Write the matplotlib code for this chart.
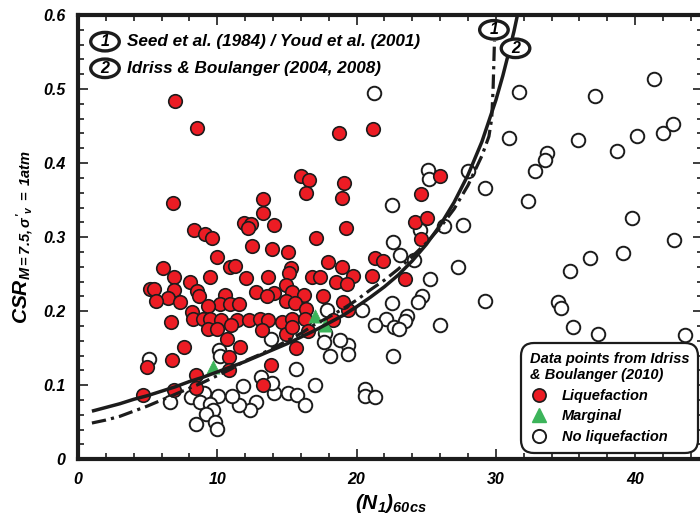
import matplotlib
matplotlib.use("Agg")
import matplotlib.pyplot as plt
from matplotlib.lines import Line2D
from matplotlib.patches import Ellipse

plt.rcParams['font.family'] = ['Liberation Sans', 'DejaVu Sans']
plt.rcParams['font.weight'] = 'bold'
plt.rcParams['font.style'] = 'italic'
plt.rcParams['mathtext.fontset'] = 'custom'
plt.rcParams['mathtext.rm'] = 'Liberation Sans:bold:italic'
plt.rcParams['mathtext.it'] = 'Liberation Sans:bold:italic'
plt.rcParams['mathtext.bf'] = 'Liberation Sans:bold:italic'

# liquefaction case histories: (N1)60cs and CSR
liq_n = [7.00, 8.51, 18.74, 21.16, 16.04, 16.55, 16.40, 19.10, 18.93, 6.84,
         13.30, 13.30, 25.99, 24.60, 11.92, 12.40, 12.24, 14.07, 19.24, 8.33,
         9.10, 9.63, 12.49, 13.93, 15.09, 17.07, 10.01, 17.95, 18.95, 24.19,
         25.07, 24.62, 21.32, 21.90, 23.47, 21.14, 19.73, 19.42, 6.12, 6.88,
         9.48, 8.06, 10.91, 11.29, 12.05, 13.66, 15.27, 15.13, 16.78, 17.34,
         18.54, 19.29, 5.17, 5.46, 6.91, 6.48, 8.52, 8.69, 5.59, 7.32,
         10.59, 10.19, 10.91, 11.58, 9.33, 12.79, 14.08, 13.55, 14.93, 15.34,
         14.96, 16.24, 15.56, 17.59, 16.35, 19.05, 8.16, 8.28, 9.00, 9.48,
         10.30, 11.45, 12.28, 13.09, 13.66, 14.62, 15.40, 16.30, 18.34, 6.65,
         9.35, 10.01, 10.95, 13.24, 14.90, 15.34, 16.53, 10.73, 11.65, 7.62,
         15.67, 10.85, 6.78, 4.95, 10.83, 13.83, 8.47, 8.47, 6.88, 4.65,
         13.30]
liq_csr = [0.484, 0.447, 0.440, 0.446, 0.383, 0.377, 0.360, 0.373, 0.353, 0.346,
           0.352, 0.333, 0.383, 0.358, 0.319, 0.318, 0.312, 0.316, 0.313, 0.309,
           0.304, 0.299, 0.288, 0.284, 0.280, 0.299, 0.273, 0.267, 0.260, 0.321,
           0.326, 0.297, 0.272, 0.268, 0.243, 0.247, 0.247, 0.202, 0.258, 0.246,
           0.246, 0.240, 0.260, 0.261, 0.245, 0.246, 0.258, 0.251, 0.246, 0.246,
           0.239, 0.237, 0.230, 0.230, 0.228, 0.218, 0.227, 0.220, 0.214, 0.212,
           0.222, 0.210, 0.210, 0.210, 0.207, 0.226, 0.224, 0.220, 0.236, 0.226,
           0.214, 0.222, 0.211, 0.221, 0.203, 0.212, 0.199, 0.190, 0.189, 0.189,
           0.188, 0.188, 0.188, 0.189, 0.188, 0.186, 0.189, 0.189, 0.188, 0.185,
           0.176, 0.176, 0.181, 0.175, 0.169, 0.179, 0.173, 0.162, 0.151, 0.152,
           0.150, 0.138, 0.134, 0.125, 0.121, 0.128, 0.114, 0.096, 0.093, 0.087,
           0.101]

# marginal cases
marg_n = [9.66, 17.01, 17.73]
marg_csr = [0.125, 0.193, 0.181]

# no liquefaction
noliq_n = [21.27, 31.68, 37.11, 41.37, 30.96, 35.89, 40.15, 42.02, 42.74, 38.67,
           33.65, 33.55, 32.81, 28.03, 25.13, 25.20, 29.22, 32.34, 22.52, 24.55,
           22.59, 26.27, 27.62, 39.79, 42.76, 23.12, 36.73, 39.15, 24.10, 25.27,
           27.26, 22.52, 24.69, 24.41, 29.23, 23.60, 23.45, 22.11, 21.32, 22.66,
           23.08, 25.97, 20.37, 22.59, 20.60, 20.57, 21.29, 35.32, 34.48, 34.65,
           35.56, 37.35, 43.57, 19.40, 19.36, 18.81, 17.90, 17.70, 17.66, 18.09,
           13.83, 15.67, 17.01, 13.12, 11.87, 14.05, 15.08, 15.72, 16.32, 12.76,
           12.33, 11.59, 11.03, 10.05, 8.11, 9.05, 8.76, 9.48, 9.69, 9.19,
           8.47, 9.83, 10.01, 6.64, 5.12, 10.10, 10.18, 13.91]
noliq_csr = [0.494, 0.496, 0.491, 0.514, 0.434, 0.431, 0.437, 0.441, 0.453, 0.417,
             0.414, 0.404, 0.390, 0.389, 0.391, 0.379, 0.367, 0.349, 0.344, 0.309,
             0.293, 0.315, 0.316, 0.326, 0.296, 0.276, 0.272, 0.278, 0.269, 0.243,
             0.260, 0.211, 0.221, 0.212, 0.214, 0.194, 0.187, 0.189, 0.181, 0.178,
             0.176, 0.182, 0.202, 0.140, 0.095, 0.085, 0.084, 0.254, 0.212, 0.204,
             0.178, 0.169, 0.168, 0.154, 0.142, 0.161, 0.201, 0.170, 0.159, 0.139,
             0.162, 0.122, 0.100, 0.111, 0.099, 0.090, 0.090, 0.087, 0.073, 0.078,
             0.067, 0.073, 0.085, 0.086, 0.084, 0.090, 0.078, 0.075, 0.067, 0.061,
             0.048, 0.050, 0.041, 0.077, 0.135, 0.148, 0.139, 0.103]

# curve 1: Seed et al. (1984) / Youd et al. (2001)
c1_n = [1, 2, 3, 4, 5, 6, 7, 8, 9, 10, 11, 12, 13, 14, 15, 16, 17, 18, 19, 20,
        21, 22, 23, 24, 25, 26, 27, 28, 29, 29.5, 29.7, 29.8, 29.9]
c1_csr = [0.049, 0.053, 0.058, 0.065, 0.072, 0.080, 0.088, 0.096, 0.104, 0.113,
          0.122, 0.133, 0.141, 0.150, 0.160, 0.170, 0.182, 0.192, 0.203, 0.215,
          0.229, 0.242, 0.257, 0.274, 0.292, 0.313, 0.338, 0.370, 0.410, 0.436,
          0.460, 0.500, 0.565]

# curve 2: Idriss & Boulanger (2004, 2008)
c2_n = [1, 2, 3, 4, 5, 6, 7, 8, 9, 10, 11, 12, 13, 14, 15, 16, 17, 18, 19, 20,
        21, 22, 23, 24, 25, 26, 27, 28, 29, 30, 30.5, 31, 31.3, 31.55]
c2_csr = [0.065, 0.070, 0.075, 0.081, 0.086, 0.092, 0.098, 0.105, 0.111, 0.118,
          0.125, 0.132, 0.140, 0.148, 0.156, 0.165, 0.174, 0.184, 0.194, 0.206,
          0.219, 0.233, 0.249, 0.268, 0.290, 0.316, 0.347, 0.384, 0.429, 0.485,
          0.518, 0.555, 0.578, 0.600]

x_ticks = [0, 10, 20, 30, 40]
x_tick_labels = ['0', '10', '20', '30', '40']
y_ticks = [0, 0.1, 0.2, 0.3, 0.4, 0.5, 0.6]
y_tick_labels = ['0', '0.1', '0.2', '0.3', '0.4', '0.5', '0.6']

RED = '#ec1c24'
GREEN = '#3cb45a'
INK = '#1c1c1c'

fig = plt.figure(figsize=(7, 5.17), dpi=100)
ax = fig.add_axes([0.1114, 0.1116, 0.8929, 0.8594])

ax.scatter(noliq_n, noliq_csr, s=95, facecolor='white', edgecolor=INK, linewidth=1.4, zorder=3)
ax.scatter(liq_n, liq_csr, s=95, facecolor=RED, edgecolor=INK, linewidth=1.2, zorder=4)
ax.scatter(marg_n, marg_csr, s=90, marker='^', facecolor=GREEN, edgecolor=GREEN, linewidth=0.5, zorder=5)

ax.plot(c1_n, c1_csr, color=INK, lw=2.3, linestyle=(0, (4.5, 1.6, 1.0, 1.6)), zorder=6)
ax.plot(c2_n, c2_csr, color=INK, lw=2.5, solid_capstyle='butt', zorder=6)


def tag(x, y, num):
    # numbered ellipse marker for a curve
    ax.add_patch(Ellipse((x, y), 2.05, 0.025, facecolor='white', edgecolor=INK, lw=2.4, zorder=8))
    ax.text(x, y, num, fontsize=11.5, ha='center', va='center', zorder=9)


tag(29.86, 0.580, '1')
tag(31.41, 0.555, '2')
tag(1.94, 0.564, '1')
tag(1.94, 0.528, '2')
ax.text(3.5, 0.564, 'Seed et al. (1984) / Youd et al. (2001)', fontsize=12.3, va='center', zorder=8)
ax.text(3.5, 0.528, 'Idriss & Boulanger (2004, 2008)', fontsize=12.3, va='center', zorder=8)

ax.set_xlim(0, 44.87)
ax.set_ylim(0, 0.6)
ax.set_xticks(x_ticks)
ax.set_xticklabels(x_tick_labels)
ax.set_yticks(y_ticks)
ax.set_yticklabels(y_tick_labels)
ax.set_xticks([v for v in range(0, 45, 2)], minor=True)
ax.set_yticks([i * 0.02 for i in range(31)], minor=True)
ax.tick_params(which='both', direction='in', top=True, right=True, width=1.2, color=INK)
ax.tick_params(which='major', length=7, labelsize=11.5, pad=9)
ax.tick_params(which='minor', length=4)
for side in ['left', 'bottom', 'top', 'right']:
    ax.spines[side].set_linewidth(3)
    ax.spines[side].set_color(INK)

ax.set_xlabel(r'$(N_1)_{60cs}$', fontsize=15, labelpad=4)
ax.set_ylabel(r"$CSR_{M=7.5,\sigma'_v\ =\ 1atm}$", fontsize=15, labelpad=6)

handles = [
    Line2D([], [], linestyle='none', marker='o', markersize=9.5, markerfacecolor=RED, markeredgecolor=INK, markeredgewidth=1.2),
    Line2D([], [], linestyle='none', marker='^', markersize=9.5, markerfacecolor=GREEN, markeredgecolor=GREEN),
    Line2D([], [], linestyle='none', marker='o', markersize=9.5, markerfacecolor='white', markeredgecolor=INK, markeredgewidth=1.4),
]
labels = ['Liquefaction', 'Marginal', 'No liquefaction']
leg = ax.legend(handles, labels, title='Data points from Idriss\n& Boulanger (2010)',
                loc='lower right', bbox_to_anchor=(0.992, 0.015), borderaxespad=0,
                fontsize=10.5, title_fontsize=10.5, alignment='left', frameon=True,
                fancybox=True, framealpha=1, edgecolor=INK, handletextpad=0.9,
                labelspacing=0.45, borderpad=0.6, handlelength=1.3)
leg.get_frame().set_linewidth(1.6)
leg.get_frame().set_boxstyle('round,pad=0,rounding_size=0.9')
leg.set_zorder(10)

fig.savefig('out.png', dpi=100)
